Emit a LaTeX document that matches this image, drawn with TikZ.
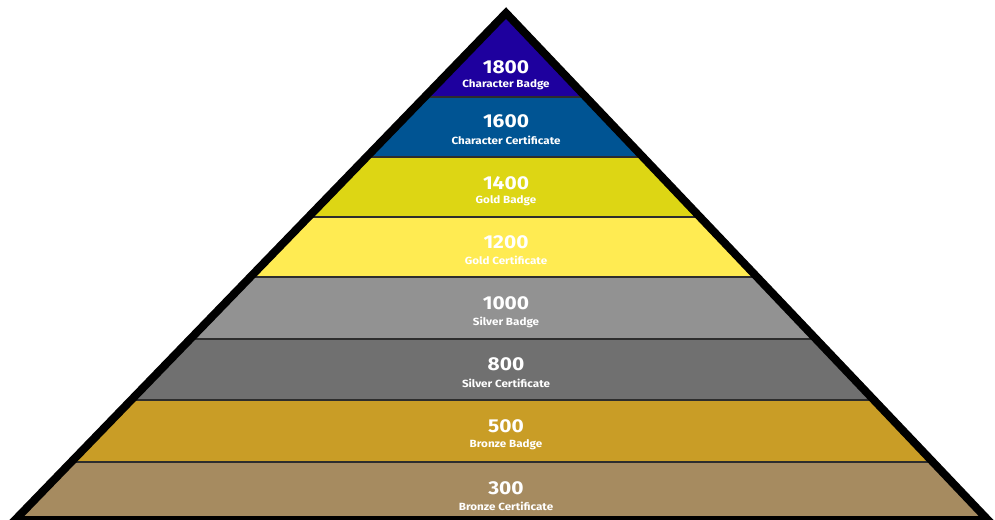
\documentclass[tikz,border=0pt]{standalone}
\usepackage{fontspec}
\setmainfont{Fira Sans}[FakeStretch=1.12]
\definecolor{charbadge}{RGB}{30,0,158}
\definecolor{charcert}{RGB}{0,84,147}
\definecolor{goldbadge}{RGB}{221,214,20}
\definecolor{goldcert}{RGB}{255,235,82}
\definecolor{silverbadge}{RGB}{146,146,146}
\definecolor{silvercert}{RGB}{112,112,112}
\definecolor{bronzebadge}{RGB}{201,157,38}
\definecolor{bronzecert}{RGB}{166,139,96}
\definecolor{tierline}{RGB}{45,45,45}
\tikzset{
  pts/.style   = {text=white, inner sep=0pt,
                  font=\fontsize{14}{16}\selectfont\bfseries},
  award/.style = {text=white, inner sep=0pt,
                  font=\fontsize{7.8}{9}\selectfont\bfseries},
  tier/.style  = {draw=tierline, line width=2pt},
  rim/.style   = {draw=black, line width=6pt, line join=miter},
}
\begin{document}
\begin{tikzpicture}[x=0.75pt, y=-0.75pt]
  \useasboundingbox (0,0) rectangle (995,519);
  \clip (0,0) rectangle (995,519);

  \coordinate (apex) at (506,13);
  \coordinate (bl)   at (15,520);
  \coordinate (br)   at (988,520);

  % tiers, cut to the pyramid
  \begin{scope}
    \clip (apex) -- (bl) -- (br) -- cycle;
    \fill[charbadge]   (0,0)   rectangle (995,97);
    \fill[charcert]    (0,97)  rectangle (995,157);
    \fill[goldbadge]   (0,157) rectangle (995,217);
    \fill[goldcert]    (0,217) rectangle (995,277);
    \fill[silverbadge] (0,277) rectangle (995,339);
    \fill[silvercert]  (0,339) rectangle (995,400);
    \fill[bronzebadge] (0,400) rectangle (995,462);
    \fill[bronzecert]  (0,462) rectangle (995,530);
    \draw[tier] (0,97)  -- (995,97);
    \draw[tier] (0,157) -- (995,157);
    \draw[tier] (0,217) -- (995,217);
    \draw[tier] (0,277) -- (995,277);
    \draw[tier] (0,339) -- (995,339);
    \draw[tier] (0,400) -- (995,400);
    \draw[tier] (0,462) -- (995,462);
  \end{scope}

  \draw[rim] (apex) -- (bl) -- (br) -- cycle;

  \node[pts]   (p1800) at (506,67)  {1800};
  \node[award] (a1800) at (506,85)  {Character Badge};
  \node[pts]   (p1600) at (506,121) {1600};
  \node[award] (a1600) at (506,140) {Character Certificate};
  \node[pts]   (p1400) at (506,183) {1400};
  \node[award] (a1400) at (506,201) {Gold Badge};
  \node[pts]   (p1200) at (506,242) {1200};
  \node[award] (a1200) at (506,260) {Gold Certificate};
  \node[pts]   (p1000) at (506,303) {1000};
  \node[award] (a1000) at (506,322) {Silver Badge};
  \node[pts]   (p800)  at (506,364) {800};
  \node[award] (a800)  at (506,383) {Silver Certificate};
  \node[pts]   (p500)  at (506,426) {500};
  \node[award] (a500)  at (506,445) {Bronze Badge};
  \node[pts]   (p300)  at (506,488) {300};
  \node[award] (a300)  at (506,506) {Bronze Certificate};
\end{tikzpicture}
\end{document}
